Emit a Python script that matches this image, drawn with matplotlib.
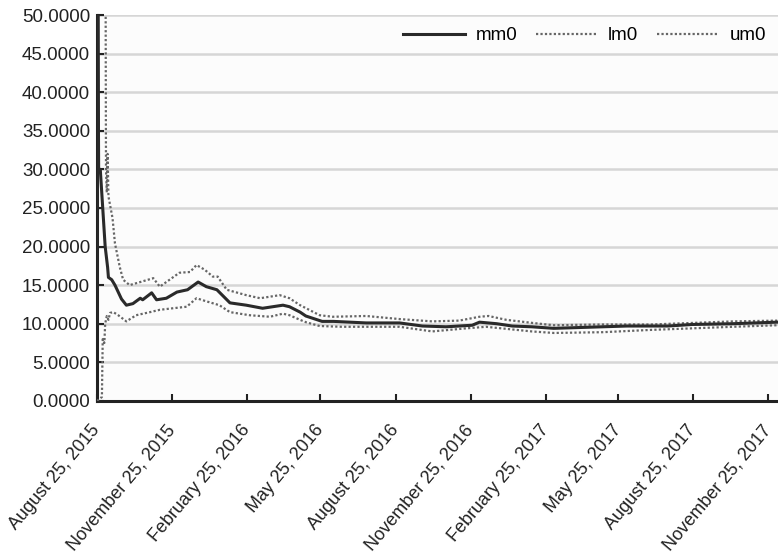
#!/usr/bin/env python3
# -*- coding: utf-8 -*-
"""
Verlauf mm0 mit unterem (lm0) und oberem (um0) Band, Aug 2015 - Dez 2017.
Schreibt out.png
"""
import pandas as pd
import matplotlib.pyplot as plt
import matplotlib.dates as mdates
from matplotlib.ticker import FormatStrFormatter

START = pd.Timestamp("2015-08-25")

mm0_days = [0, 1, 2, 4, 10, 13, 14, 18, 22, 30, 36, 44, 53, 56, 67, 73, 85, 98,
            111, 124, 134, 147, 163, 183, 203, 228, 236, 249, 256, 276, 290,
            330, 371, 399, 428, 460, 469, 490, 509, 533, 560, 590, 620, 650,
            700, 730, 780, 834]
mm0_vals = [10.0, 52.0, 30.0, 30.0, 20.0, 17.3, 16.0, 15.7, 15.0, 13.2, 12.4,
            12.6, 13.3, 13.1, 14.0, 13.1, 13.3, 14.1, 14.4, 15.4, 14.8, 14.4,
            12.7, 12.4, 12.0, 12.4, 12.2, 11.5, 11.0, 10.3, 10.3, 10.1, 10.1,
            9.7, 9.6, 9.8, 10.2, 10.0, 9.7, 9.6, 9.4, 9.5, 9.6, 9.7, 9.7, 9.9,
            10.0, 10.2]

lm0_days = [0, 6, 7, 9, 10, 12, 14, 16, 20, 26, 36, 48, 65, 77, 93, 110, 122,
            134, 150, 163, 187, 212, 228, 236, 249, 256, 273, 300, 330, 371,
            411, 453, 477, 533, 560, 620, 680, 730, 780, 834]
lm0_vals = [0.0, 0.5, 8.0, 7.5, 10.0, 11.0, 10.5, 11.4, 11.5, 11.1, 10.3, 11.1,
            11.5, 11.8, 12.0, 12.2, 13.3, 12.9, 12.4, 11.5, 11.1, 10.9, 11.3,
            11.1, 10.5, 10.2, 9.7, 9.6, 9.6, 9.6, 9.0, 9.4, 9.6, 9.0, 8.8, 8.9,
            9.2, 9.4, 9.6, 9.8]

um0_days = [0, 10, 11, 12, 13, 14, 19, 22, 28, 32, 40, 53, 69, 77, 89, 101,
            114, 122, 132, 142, 148, 159, 183, 200, 224, 236, 249, 273, 289,
            330, 371, 411, 444, 469, 480, 502, 534, 560, 620, 680, 730, 780,
            834]
um0_vals = [80.0, 80.0, 30.0, 27.0, 32.0, 26.5, 23.7, 20.4, 17.3, 15.7, 15.0,
            15.4, 15.9, 14.8, 15.7, 16.6, 16.7, 17.6, 17.0, 16.1, 16.1, 14.4,
            13.7, 13.3, 13.7, 13.3, 12.4, 11.1, 10.9, 11.0, 10.6, 10.3, 10.4,
            10.9, 11.0, 10.5, 10.1, 9.8, 9.9, 9.9, 10.1, 10.3, 10.4]

tick_dates = ["2015-08-25", "2015-11-25", "2016-02-25", "2016-05-25",
              "2016-08-25", "2016-11-25", "2017-02-25", "2017-05-25",
              "2017-08-25", "2017-11-25"]


def to_dates(days):
    return START + pd.to_timedelta(days, unit="D")


plt.rcParams["font.family"] = ["Liberation Sans", "DejaVu Sans"]

fig, ax = plt.subplots(figsize=(7.78, 5.56), dpi=100)
fig.subplots_adjust(left=0.1247, right=1.0, top=0.973, bottom=0.279)
ax.set_facecolor("#fcfcfc")

ax.plot(to_dates(mm0_days), mm0_vals, color="#2a2a2a", lw=2.2, label="mm0",
        zorder=4)
ax.plot(to_dates(lm0_days), lm0_vals, color="#666666", lw=1.6, ls=(0, (1, 1)),
        label="lm0", zorder=3)
ax.plot(to_dates(um0_days), um0_vals, color="#666666", lw=1.6, ls=(0, (1, 1)),
        label="um0", zorder=3)

ax.set_ylim(0, 50)
ax.set_yticks(range(0, 51, 5))
ax.yaxis.set_major_formatter(FormatStrFormatter("%.4f"))
ax.set_xlim(START, pd.Timestamp("2017-12-07"))
ax.set_xticks(pd.to_datetime(tick_dates))
ax.xaxis.set_major_formatter(mdates.DateFormatter("%B %d, %Y"))

ax.grid(axis="y", color="#d6d6d6", lw=1.8, zorder=0)
ax.set_axisbelow(True)
for s in ("top", "right"):
    ax.spines[s].set_visible(False)
for s in ("left", "bottom"):
    ax.spines[s].set_linewidth(2.2)
    ax.spines[s].set_color("#222222")

ax.tick_params(axis="both", direction="in", length=5, width=1.5,
               colors="#222222", labelsize=13.5)
ax.tick_params(axis="y", pad=5)
ax.tick_params(axis="x", pad=19, labelsize=13)
for lab in ax.get_xticklabels():
    lab.set_rotation(50)
    lab.set_ha("right")
    lab.set_va("center")
    lab.set_rotation_mode("anchor")

leg = ax.legend(loc="upper right", ncol=3, frameon=False, fontsize=13.5,
                handlelength=3.3, columnspacing=1.0, handletextpad=0.55,
                borderaxespad=0.25, bbox_to_anchor=(1.0, 1.0))

plt.savefig("out.png", dpi=100)
plt.close()
print("[ok] wrote out.png")
